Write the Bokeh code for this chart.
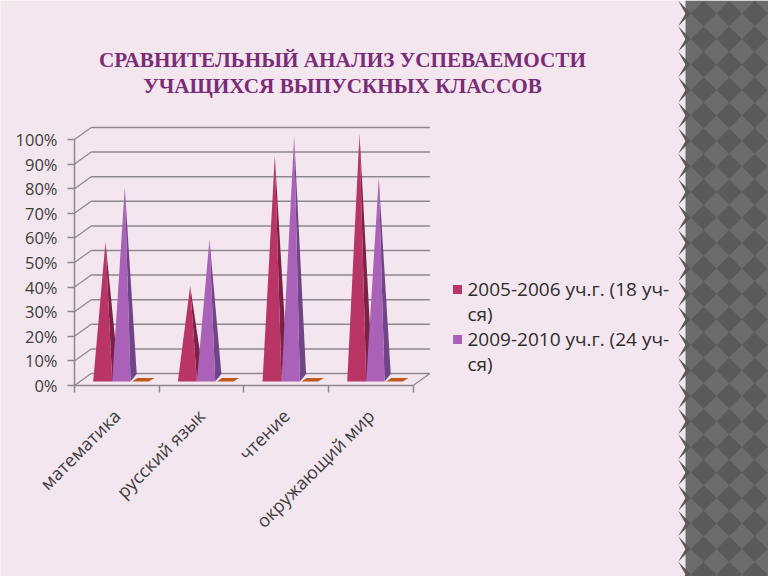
import math
from bokeh.plotting import figure
from bokeh.models import FixedTicker, Range1d
from bokeh.core.properties import value
from bokeh.embed import file_html
from bokeh.resources import INLINE

title_lines = ["СРАВНИТЕЛЬНЫЙ АНАЛИЗ УСПЕВАЕМОСТИ", "УЧАЩИХСЯ ВЫПУСКНЫХ КЛАССОВ"]
categories = ["математика", "русский язык", "чтение", "окружающий мир"]
series_2005 = [56, 38, 91, 100]
series_2009 = [78, 57, 99, 82]
series_third = [0, 0, 0, 0]
y_ticks = [0, 10, 20, 30, 40, 50, 60, 70, 80, 90, 100]
legend_2005 = ["2005-2006 уч.г. (18 уч-", "ся)"]
legend_2009 = ["2009-2010 уч.г. (24 уч-", "ся)"]

BG = "#f4e6ef"
RED, RED_D = "#b83566", "#7b2148"
PUR, PUR_D = "#a962b8", "#6f4588"
ORA = "#bf5a1e"
GRID = "#8f878e"
TXT = "#3c3c3c"
FONT = "Open Sans"

CAT_W, UNIT = 84.67, 2.46
X0, Y0 = 74.0, 385.0
def X(px): return (px - X0) / CAT_W
def Y(py): return (Y0 - py) / UNIT
DX, DY = 16.7 / CAT_W, 12.0 / UNIT
LIFT = 6.0 / UNIT
BASE = 4.0 / UNIT

p = figure(width=768, height=576, output_backend="svg", toolbar_location=None,
           x_range=Range1d(X(0), X(768)), y_range=Range1d(Y(576), Y(0)),
           min_border=0, min_border_left=0, min_border_right=0,
           min_border_top=0, min_border_bottom=0,
           background_fill_color=BG, border_fill_color=BG, outline_line_color=None)
p.grid.visible = False

# right decorative strip: 45-degree checkerboard
p.quad(left=X(685), right=X(768), bottom=Y(576), top=Y(0), fill_color="#6c6c6c", line_color=None)
xs, ys = [], []
H = 12.75
for a in range(0, 5):
    for b in range(0, 25):
        cx, cy = 677.7 + a * 2 * H, 13 + b * 2 * H
        xs.append([X(max(cx - H, 685)), X(cx), X(min(cx + H, 768)), X(cx)])
        ys.append([Y(cy), Y(cy - H), Y(cy), Y(cy + H)])
p.patches(xs, ys, fill_color="#5a5a5a", line_color=None)

# 3-D box
p.segment(x0=[DX] * len(y_ticks), x1=[4 + DX] * len(y_ticks),
          y0=[v + DY for v in y_ticks], y1=[v + DY for v in y_ticks],
          line_color=GRID, line_width=1.5)
p.segment(x0=[0] * len(y_ticks), x1=[DX] * len(y_ticks),
          y0=y_ticks, y1=[v + DY for v in y_ticks], line_color=GRID, line_width=1.2)
p.segment(x0=[4], x1=[4 + DX], y0=[0], y1=[DY], line_color=GRID, line_width=1.2)

# axes
p.yaxis.fixed_location = 0
p.yaxis.bounds = (0, 100)
p.yaxis.ticker = FixedTicker(ticks=y_ticks)
p.yaxis.major_label_overrides = {v: f"{v}%" for v in y_ticks}
p.yaxis.major_label_text_font = FONT
p.yaxis.major_label_text_font_size = "16.5px"
p.yaxis.major_label_text_color = TXT
p.yaxis.major_label_standoff = 10
p.yaxis.major_tick_in = 0
p.yaxis.major_tick_out = 7
p.yaxis.minor_tick_line_color = None
p.yaxis.axis_line_color = GRID
p.yaxis.major_tick_line_color = GRID
p.yaxis.axis_line_width = 1.5
p.yaxis.major_tick_line_width = 1.5

centers = [i + .5 for i in range(len(categories))]
p.xaxis.fixed_location = 0
p.xaxis.bounds = (0, 4)
p.xaxis.ticker = FixedTicker(ticks=centers, minor_ticks=[0, 1, 2, 3, 4])
p.xaxis.major_label_overrides = dict(zip(centers, categories))
p.xaxis.major_label_orientation = math.pi / 4
p.xaxis.major_label_text_font = FONT
p.xaxis.major_label_text_font_size = "18px"
p.xaxis.major_label_text_color = TXT
p.xaxis.major_label_standoff = 20
p.xaxis.major_tick_in = 0
p.xaxis.major_tick_out = 0
p.xaxis.minor_tick_in = 0
p.xaxis.minor_tick_out = 7
p.xaxis.axis_line_color = GRID
p.xaxis.minor_tick_line_color = GRID
p.xaxis.axis_line_width = 1.5
p.xaxis.minor_tick_line_width = 1.5

# flat third series
for i, v in enumerate(series_third):
    p.patch([i + .681, i + .877, i + .945, i + .743],
            [BASE + v, BASE + v, BASE + v + 1.4, BASE + v + 1.4], fill_color=ORA, line_color=None)

def cone(i, v, left, right, apex, side, col, dark):
    top = v + LIFT
    p.patch([i + apex, i + right, i + side], [top, BASE, BASE + 3], fill_color=dark, line_color=None)
    p.patch([i + left, i + right, i + apex], [BASE, BASE, top], fill_color=col, line_color=None)

for i, v in enumerate(series_2005):
    cone(i, v, .221, .445, .366, .52, RED, RED_D)
for i, v in enumerate(series_2009):
    cone(i, v, .445, .662, .594, .735, PUR, PUR_D)

# title
p.text(x=[X(342)] * 2, y=[Y(59.5), Y(85.5)], text=title_lines, text_align="center", text_baseline="middle",
       text_font=value("Liberation Serif"), text_font_style="bold", text_font_size="21.2px", text_color="#7a2c76")

# legend
p.scatter(x=[X(457), X(457)], y=[Y(289), Y(339)], marker="square", size=9,
          fill_color=[RED, PUR], line_color=None)
p.text(x=[X(467)] * 4, y=[Y(288), Y(313), Y(338), Y(363)], text=legend_2005 + legend_2009,
       text_align="left", text_baseline="middle", text_font=value(FONT),
       text_font_size="19px", text_color="#2c2c2c")

open("out.html", "w").write(file_html(p, INLINE))
